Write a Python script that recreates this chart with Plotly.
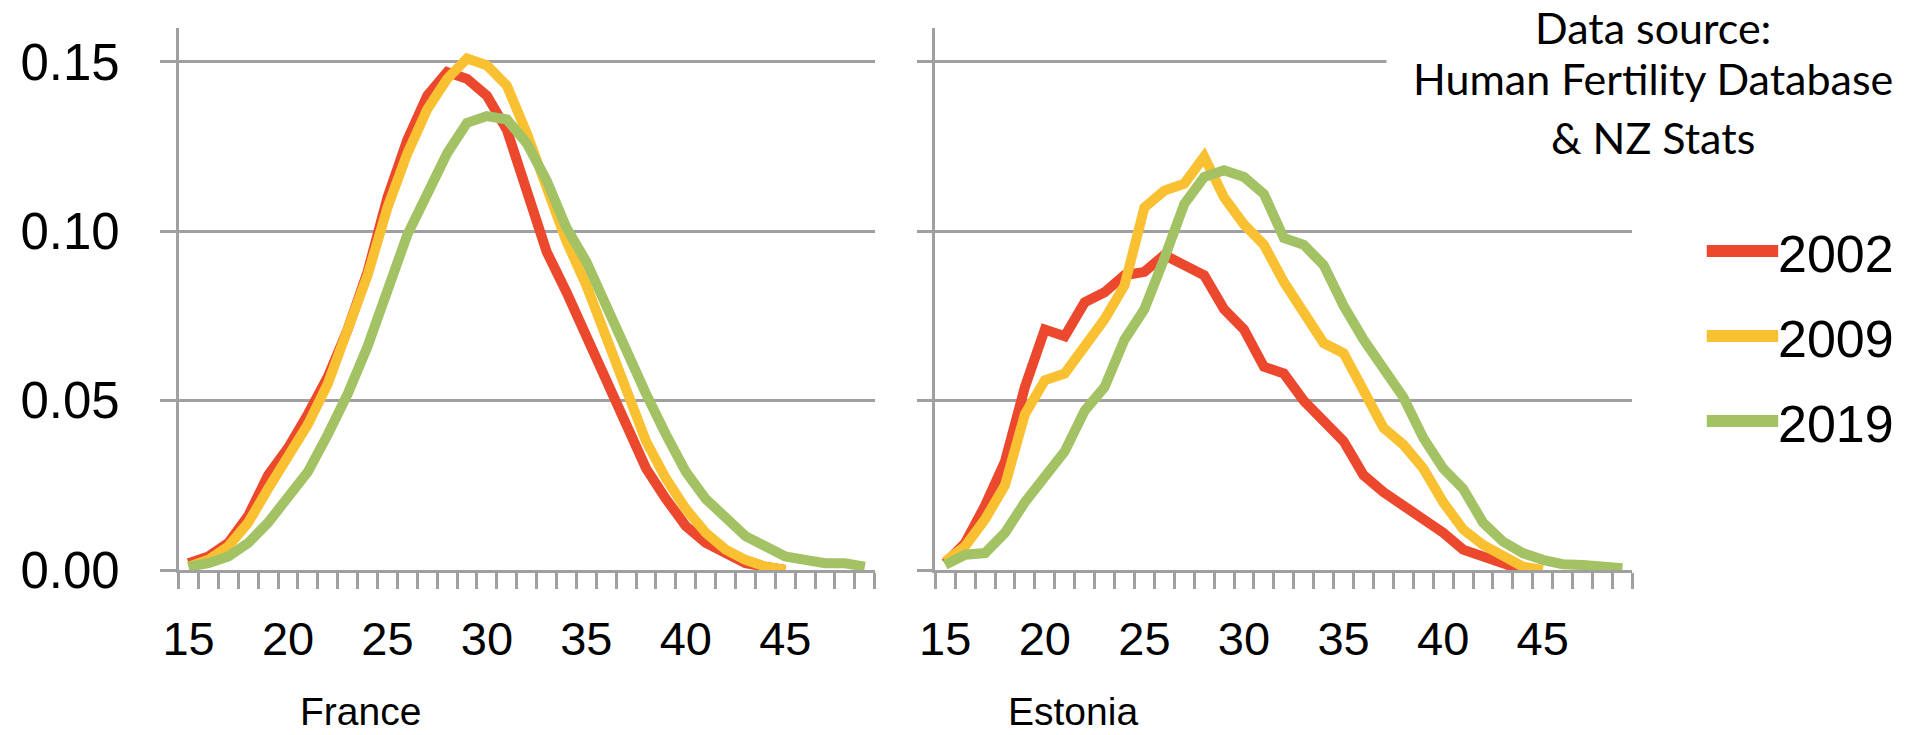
import plotly.graph_objects as go

# ---------------- data ----------------
ages = list(range(15, 50))
years = ["2002", "2009", "2019"]
colors = ["#EC482D", "#F9C132", "#A2C264"]
tick_ages = [15, 20, 25, 30, 35, 40, 45]
y_ticks = [0.0, 0.05, 0.10, 0.15]
y_tick_text = ["0.00", "0.05", "0.10", "0.15"]
panel_names = ["France", "Estonia"]
source_lines = ["Data source:", "Human Fertility Database", "& NZ Stats"]

france_2002 = [0.002, 0.004, 0.008, 0.016, 0.028, 0.036, 0.046, 0.057, 0.071, 0.088,
               0.110, 0.127, 0.140, 0.147, 0.145, 0.140, 0.130, 0.112, 0.094, 0.082,
               0.069, 0.055, 0.042, 0.030, 0.021, 0.013, 0.008, 0.005, 0.002, 0.001,
               0.0, None, None, None, None]
france_2009 = [0.001, 0.003, 0.007, 0.014, 0.024, 0.033, 0.043, 0.055, 0.070, 0.087,
               0.107, 0.123, 0.136, 0.145, 0.151, 0.149, 0.143, 0.129, 0.113, 0.097,
               0.084, 0.068, 0.052, 0.038, 0.027, 0.018, 0.011, 0.006, 0.003, 0.001,
               0.0, None, None, None, None]
france_2019 = [0.001, 0.002, 0.004, 0.008, 0.014, 0.021, 0.029, 0.040, 0.052, 0.066,
               0.083, 0.099, 0.111, 0.123, 0.132, 0.134, 0.133, 0.126, 0.115, 0.101,
               0.091, 0.078, 0.064, 0.052, 0.040, 0.029, 0.021, 0.015, 0.010, 0.007,
               0.004, 0.003, 0.002, 0.002, 0.001]

estonia_2002 = [0.002, 0.008, 0.019, 0.032, 0.054, 0.071, 0.069, 0.079, 0.082, 0.087,
                0.088, 0.093, 0.090, 0.087, 0.077, 0.071, 0.060, 0.058, 0.050, 0.044,
                0.038, 0.028, 0.023, 0.019, 0.015, 0.011, 0.006, 0.004, 0.0015, 0.0,
                None, None, None, None, None]
estonia_2009 = [0.0025, 0.007, 0.015, 0.025, 0.046, 0.056, 0.058, 0.066, 0.074, 0.084,
                0.107, 0.112, 0.114, 0.122, 0.110, 0.102, 0.096, 0.085, 0.076, 0.067,
                0.064, 0.053, 0.042, 0.037, 0.030, 0.020, 0.012, 0.0074, 0.004, 0.001,
                0.0, None, None, None, None]
estonia_2019 = [0.0015, 0.0045, 0.005, 0.011, 0.020, 0.028, 0.035, 0.047, 0.054, 0.068,
                0.077, 0.092, 0.108, 0.116, 0.118, 0.116, 0.111, 0.098, 0.096, 0.090,
                0.078, 0.068, 0.060, 0.051, 0.039, 0.030, 0.024, 0.014, 0.0084, 0.005,
                0.003, 0.0017, 0.0015, 0.001, 0.0005]

france = [france_2002, france_2009, france_2019]
estonia = [estonia_2002, estonia_2009, estonia_2019]

# ---------------- layout helpers ----------------
W, H = 1917, 735
TOP, BOTTOM = 28, 570          # plot area in px
PH = BOTTOM - TOP
GRID = "#A0A0A0"
FONT = "Liberation Sans, Arial, sans-serif"


def px_x(px):
    return px / W


def px_y(py):
    return (BOTTOM - py) / PH


fig = go.Figure()
for panel, (xa, ya) in zip([france, estonia], [("x", "y"), ("x2", "y2")]):
    for series, yr, col in zip(panel, years, colors):
        fig.add_trace(go.Scatter(
            x=ages, y=series, name=yr, mode="lines",
            line=dict(color=col, width=10),
            xaxis=xa, yaxis=ya, showlegend=False, connectgaps=False,
            hoverinfo="skip"))

xcommon = dict(
    range=[14.5, 49.5], tickmode="array", tickvals=tick_ages,
    ticktext=[str(t) for t in tick_ages], ticks="",
    showgrid=False, zeroline=False, showline=True,
    linecolor=GRID, linewidth=2.5,
    tickfont=dict(family=FONT, size=47, color="black"),
    ticklabelstandoff=26,
    minor=dict(ticks="outside", ticklen=16, tickwidth=2.5, tickcolor=GRID,
               tickmode="linear", tick0=14.5, dtick=1, showgrid=False),
)
ycommon = dict(
    range=[0, 0.16], tickmode="array", tickvals=y_ticks, ticktext=y_tick_text,
    ticks="outside", ticklen=16, tickwidth=2.5, tickcolor=GRID,
    showgrid=True, gridcolor=GRID, gridwidth=2.5,
    showline=True, linecolor=GRID, linewidth=2.5, zeroline=False,
    tickfont=dict(family=FONT, size=51, color="black"),
    ticklabelstandoff=30,
)

fig.update_layout(
    width=W, height=H,
    margin=dict(l=0, r=0, t=TOP, b=H - BOTTOM, pad=0),
    paper_bgcolor="white", plot_bgcolor="white",
    showlegend=False,
    xaxis=dict(domain=[px_x(164), px_x(866)], anchor="y", **xcommon),
    yaxis=dict(domain=[0, 1], anchor="x", **ycommon),
    xaxis2=dict(domain=[px_x(927), px_x(1630)], anchor="y2", **xcommon),
    yaxis2=dict(domain=[0, 1], anchor="x2", showticklabels=False, **ycommon),
)

annotations = []
shapes = []
# panel names
for name, cx in zip(panel_names, [347, 1066]):
    annotations.append(dict(
        text=name, x=px_x(cx), y=px_y(734), xref="paper", yref="paper",
        xanchor="center", yanchor="bottom", showarrow=False, borderpad=0,
        font=dict(family=FONT, size=39, color="black")))

# white box hiding gridline behind the source text
shapes.append(dict(type="rect", xref="paper", yref="paper",
                   x0=px_x(1382), x1=px_x(1917), y0=px_y(170), y1=px_y(0),
                   fillcolor="white", line=dict(width=0), layer="above"))

# data source text
for i, (line, cy) in enumerate(zip(source_lines, [1, 79, 137])):
    annotations.append(dict(
        text=line, x=px_x(1651), y=px_y(cy), xref="paper", yref="paper",
        xanchor="center", yanchor="top" if i == 0 else "middle",
        showarrow=False, borderpad=0,
        font=dict(family="Lato, Open Sans, sans-serif", size=43, color="black")))

# custom legend
for yr, col, cy in zip(years, colors, [251, 336, 421]):
    shapes.append(dict(type="line", xref="paper", yref="paper",
                       x0=px_x(1705), x1=px_x(1777), y0=px_y(cy), y1=px_y(cy),
                       line=dict(color=col, width=12), layer="above"))
    annotations.append(dict(
        text=yr, x=px_x(1775), y=px_y(cy + 3), xref="paper", yref="paper",
        xanchor="left", yanchor="middle", showarrow=False,
        font=dict(family=FONT, size=52, color="black")))

fig.update_layout(annotations=annotations, shapes=shapes)
fig.write_html(
    "out.html",
    config={"displayModeBar": False},
    post_script="document.body.style.margin='0px';document.body.style.overflow='hidden';",
)
